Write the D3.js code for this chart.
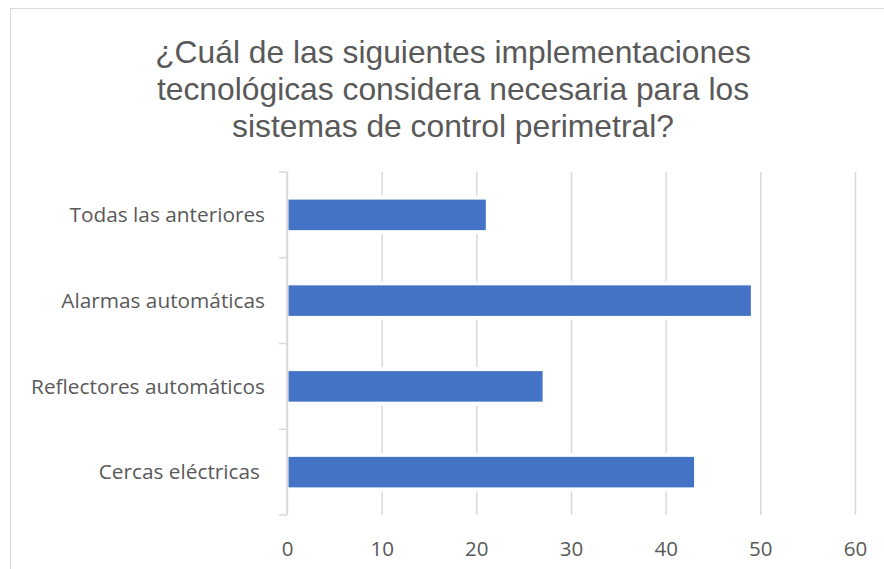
<!DOCTYPE html>
<html>
<head>
<meta charset="utf-8">
<script src="https://cdn.jsdelivr.net/npm/d3@7"></script>
<style>
  body { margin: 0; background: #fff; }
  text { fill: #595959; }
</style>
</head>
<body>
<svg id="chart" width="884" height="569"></svg>
<script>
// Data
const categories = ['Todas las anteriores', 'Alarmas automáticas', 'Reflectores automáticos', 'Cercas eléctricas'];
const values = [21, 49, 27, 43];
const xTicks = [0, 10, 20, 30, 40, 50, 60];
const titleLines = [
    '¿Cuál de las siguientes implementaciones',
    'tecnológicas considera necesaria para los',
    'sistemas de control perimetral?'
];

let svg = d3.select('#chart');

let plotTop = 172;
let plotBottom = 515;

// Chart frame (runs off the right/bottom edge like the screenshot)
svg.append('rect')
    .attr('x', 10.5).attr('y', 8.5)
    .attr('width', 900).attr('height', 600)
    .attr('fill', '#fff')
    .attr('stroke', '#d9d9d9');

// Title
svg.append('text')
    .attr('text-anchor', 'middle')
    .style('font-family', '"Liberation Sans", Arial, sans-serif')
    .style('font-size', '31.8px')
    .selectAll('tspan')
    .data(titleLines)
    .join('tspan')
    .attr('x', 453)
    .attr('y', (d, i) => 63 + i * 37)
    .text(d => d);

let x = d3.scaleLinear()
    .domain([0, 60])
    .range([287, 855]);

let y = d3.scaleBand()
    .domain(categories)
    .range([plotTop, plotBottom])
    .paddingInner(0.644)
    .paddingOuter(0.322);

// Vertical gridlines + x tick labels
let xAxis = svg.append('g')
    .attr('transform', `translate(0,${plotBottom})`)
    .call(d3.axisBottom(x)
        .tickValues(xTicks)
        .tickSize(-(plotBottom - plotTop))
        .tickPadding(26));
xAxis.select('.domain').remove();
xAxis.selectAll('.tick line')
    .attr('stroke', '#d9d9d9')
    .attr('stroke-width', 1.5);
xAxis.selectAll('.tick text')
    .style('font-family', '"Open Sans", sans-serif')
    .style('font-size', '20.5px')
    .attr('fill', '#595959');

// Category axis line with ticks between categories
let gapHalf = (y.step() - y.bandwidth()) / 2;
let bounds = categories.map(c => y(c) - gapHalf).concat([plotBottom]);
let yAxis = svg.append('g');
yAxis.append('line')
    .attr('x1', x(0)).attr('x2', x(0))
    .attr('y1', plotTop).attr('y2', plotBottom)
    .attr('stroke', '#d9d9d9').attr('stroke-width', 1.5);
yAxis.selectAll('.ytick')
    .data(bounds)
    .join('line')
    .attr('class', 'ytick')
    .attr('x1', x(0) - 8).attr('x2', x(0))
    .attr('y1', d => d).attr('y2', d => d)
    .attr('stroke', '#d9d9d9').attr('stroke-width', 1.5);

yAxis.selectAll('.ylabel')
    .data(categories)
    .join('text')
    .attr('class', 'ylabel')
    .attr('x', (d, i) => i === 3 ? 260 : 265)
    .attr('y', d => y(d) + y.bandwidth() / 2)
    .attr('dy', '0.35em')
    .attr('text-anchor', 'end')
    .style('font-family', '"Open Sans", sans-serif')
    .style('font-size', '20.8px')
    .text(d => d);

// White halo behind bars (gridlines break around them)
svg.selectAll('.halo')
    .data(values)
    .join('rect')
    .attr('class', 'halo')
    .attr('x', x(0) + 1)
    .attr('y', (d, i) => y(categories[i]) - 4)
    .attr('width', d => x(d) - x(0))
    .attr('height', y.bandwidth() + 8)
    .attr('fill', '#fff');

// Bars
svg.selectAll('.bar')
    .data(values)
    .join('rect')
    .attr('class', 'bar')
    .attr('x', x(0) + 1.5)
    .attr('y', (d, i) => y(categories[i]))
    .attr('width', d => x(d) - x(0) - 1.5)
    .attr('height', y.bandwidth())
    .attr('fill', '#4472c4');
</script>
</body>
</html>
